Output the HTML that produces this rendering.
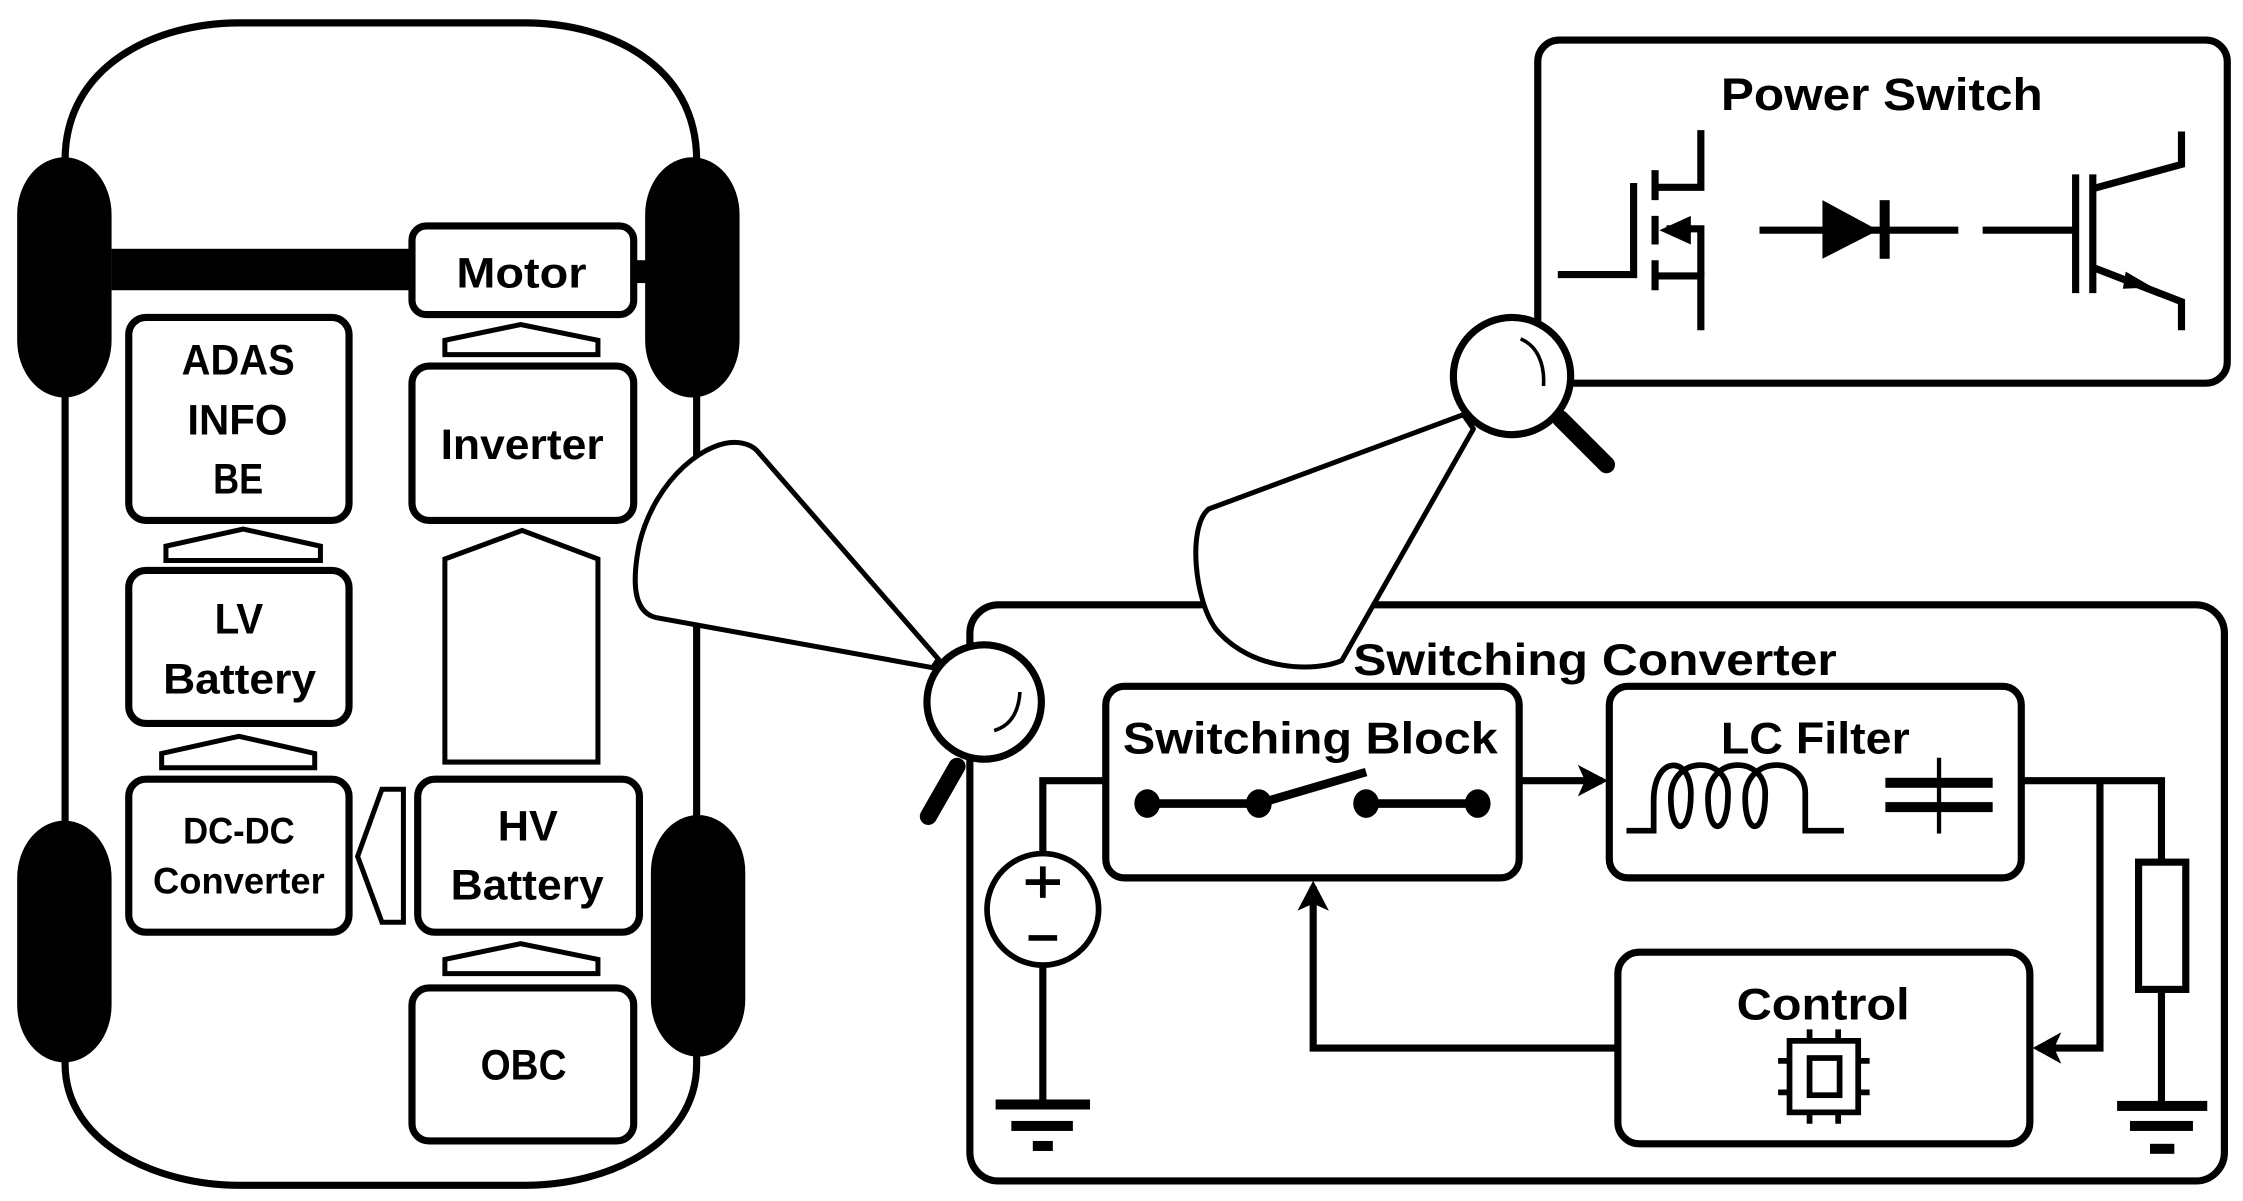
<!DOCTYPE html>
<html><head><meta charset="utf-8"><style>
html,body{margin:0;padding:0;background:#fff}
svg{display:block}
text{font-family:"Liberation Sans",sans-serif;font-weight:bold;fill:#000}
</style></head><body>
<svg width="2243" height="1201" viewBox="0 0 1568 840" preserveAspectRatio="none" xmlns="http://www.w3.org/2000/svg">
<g fill="none" stroke="#000" stroke-width="5" stroke-linejoin="round">
<path d="M45.5,112 C45.5,45 110,16 167,16 H367 C425,16 487,45 487,112 V744 C487,800 425,829 367,829 H167 C110,829 45.5,800 45.5,744 Z"/>
</g>
<g fill="#000">
<rect x="12" y="110" width="66" height="168" rx="33" ry="40"/>
<rect x="12" y="574" width="66" height="169" rx="33" ry="40"/>
<rect x="451" y="110" width="66" height="168" rx="33" ry="40"/>
<rect x="455" y="570" width="66" height="169" rx="33" ry="40"/>
<rect x="78" y="174" width="212" height="29"/>
<rect x="440" y="182" width="12" height="16"/>
</g>
<g fill="#fff" stroke="#000" stroke-width="5" stroke-linejoin="round">
<rect x="288" y="158" width="155" height="62" rx="10"/>
<rect x="288" y="256" width="155" height="108" rx="12"/>
<rect x="90" y="222" width="154" height="142" rx="12"/>
<rect x="90" y="399" width="154" height="107" rx="12"/>
<rect x="90" y="545" width="154" height="107" rx="12"/>
<rect x="292" y="545" width="155" height="107" rx="12"/>
<rect x="288" y="691" width="155" height="107" rx="12"/>
</g>
<g fill="#fff" stroke="#000" stroke-width="3.5" stroke-linejoin="miter">
<polygon points="311,248 311,238 364,227 418,238 418,248"/>
<polygon points="116,392 116,382 170,370 224,382 224,392"/>
<polygon points="113,537 113,527 167,515 220,527 220,537"/>
<polygon points="311,681 311,671 364,660 418,671 418,681"/>
<polygon points="311,533 311,391 365,371 418,391 418,533"/>
<polygon points="267,552 282,552 282,645 267,645 250,599"/>
</g>
<g font-size="30">
<text x="319" y="201" textLength="91" lengthAdjust="spacingAndGlyphs">Motor</text>
<text x="308" y="321" textLength="114" lengthAdjust="spacingAndGlyphs">Inverter</text>
<text x="127" y="262" textLength="79" lengthAdjust="spacingAndGlyphs">ADAS</text>
<text x="131" y="304" textLength="70" lengthAdjust="spacingAndGlyphs">INFO</text>
<text x="149" y="345" textLength="35" lengthAdjust="spacingAndGlyphs">BE</text>
<text x="150" y="443" textLength="34" lengthAdjust="spacingAndGlyphs">LV</text>
<text x="114" y="485" textLength="107" lengthAdjust="spacingAndGlyphs">Battery</text>
<text x="348" y="588" textLength="42" lengthAdjust="spacingAndGlyphs">HV</text>
<text x="315" y="629" textLength="107" lengthAdjust="spacingAndGlyphs">Battery</text>
<text x="336" y="755" textLength="60" lengthAdjust="spacingAndGlyphs">OBC</text>
</g>
<g font-size="26">
<text x="128" y="590" textLength="78" lengthAdjust="spacingAndGlyphs">DC-DC</text>
<text x="107" y="625" textLength="120" lengthAdjust="spacingAndGlyphs">Converter</text>
</g>

<rect x="1075" y="28" width="482" height="240" rx="15" fill="#fff" stroke="#000" stroke-width="5"/>
<text x="1203" y="77" font-size="32" textLength="225" lengthAdjust="spacingAndGlyphs">Power Switch</text>
<g fill="none" stroke="#000" stroke-width="5">
<path d="M1089,192 H1142 V128"/>
<path d="M1157,119 V140 M1157,151 V171 M1157,182 V203"/>
<path d="M1157,131 H1189 V91"/>
<path d="M1157,193 H1189 V231"/>
<path d="M1165,160 H1189 V193"/>
<path d="M1230,161 H1369"/>
<path d="M1386,161 H1451 M1451,122 V205 M1463,122 V205"/>
<path d="M1463,132 L1525,115 V92"/>
<path d="M1463,187 L1525,211 V231"/>
</g>
<polygon points="1160,161 1182,151 1182,171" fill="#000"/>
<polygon points="1274,140 1274,181 1313,161" fill="#000"/>
<rect x="1314" y="140" width="7" height="41" fill="#000"/>
<polygon points="1505,201 1486,190 1484,202" fill="#000"/>

<rect x="678" y="423" width="877" height="403" rx="20" fill="#fff" stroke="#000" stroke-width="5"/>

<path d="M529,315 L656,461 L652,467 L459,432 C440,428 443,400 447,380 C458,335 495,305 519,310 C524,311 527,313 529,315 Z" fill="#fff" stroke="#000" stroke-width="3.5" stroke-linejoin="round"/>
<line x1="669" y1="536" x2="649" y2="571" stroke="#000" stroke-width="12" stroke-linecap="round"/>
<circle cx="688" cy="491" r="40" fill="#fff" stroke="#000" stroke-width="5"/>
<path d="M713,484 C712,500 705,508 695,511" fill="none" stroke="#000" stroke-width="2.5"/>

<path d="M1023,290 L845,356 C830,368 835,420 850,440 C875,470 920,470 938,462 L1030,300 Z" fill="#fff" stroke="#000" stroke-width="3.5" stroke-linejoin="round"/>
<line x1="1091" y1="293" x2="1123" y2="325" stroke="#000" stroke-width="12" stroke-linecap="round"/>
<circle cx="1057" cy="263" r="41" fill="#fff" stroke="#000" stroke-width="5"/>
<path d="M1063,237 C1075,242 1080,255 1079,270" fill="none" stroke="#000" stroke-width="2.5"/>

<text x="946" y="472" font-size="31" textLength="338" lengthAdjust="spacingAndGlyphs">Switching Converter</text>

<g fill="none" stroke="#000" stroke-width="5">
<path d="M773,546 H729 V598"/>
<path d="M729,675 V772"/>
<path d="M1062,546 H1120"/>
<path d="M1413,546 H1511 V603"/>
<path d="M1511,693 V773"/>
<path d="M1468,546 V733 H1425"/>
<path d="M1131,733 H918 V620"/>
</g>
<g fill="#000">
<polygon points="1124,546 1103,535 1108,546 1103,557"/>
<polygon points="1421,733 1441,722 1436,733 1441,744"/>
<polygon points="918,616 907,637 918,632 929,637"/>
<rect x="696" y="769" width="66" height="7"/>
<rect x="707" y="784" width="43" height="7"/>
<rect x="722" y="798" width="14" height="7"/>
<rect x="1480" y="770" width="63" height="7"/>
<rect x="1489" y="784" width="44" height="7"/>
<rect x="1503" y="800" width="17" height="7"/>
</g>
<circle cx="729" cy="636" r="39" fill="#fff" stroke="#000" stroke-width="4"/>
<path d="M717,617 H741 M729,606 V628 M719,656 H739" stroke="#000" stroke-width="4"/>
<rect x="1495" y="603" width="33" height="89" fill="#fff" stroke="#000" stroke-width="5"/>

<g fill="#fff" stroke="#000" stroke-width="5">
<rect x="773" y="480" width="289" height="134" rx="13"/>
<rect x="1125" y="480" width="288" height="134" rx="13"/>
<rect x="1131" y="666" width="288" height="134" rx="15"/>
</g>
<g font-size="31">
<text x="785" y="527" textLength="262" lengthAdjust="spacingAndGlyphs">Switching Block</text>
<text x="1203" y="527" textLength="132" lengthAdjust="spacingAndGlyphs">LC Filter</text>
<text x="1214" y="713" textLength="121" lengthAdjust="spacingAndGlyphs">Control</text>
</g>
<g stroke="#000" stroke-width="6" fill="none">
<path d="M802,562 H880 M955,562 H1033 M880,562 L955,540"/>
</g>
<g fill="#000">
<ellipse cx="802" cy="562" rx="9" ry="10"/>
<ellipse cx="880" cy="562" rx="9" ry="10"/>
<ellipse cx="955" cy="562" rx="9" ry="10"/>
<ellipse cx="1033" cy="562" rx="9" ry="10"/>
</g>
<path d="M1137,581 H1156 V560 C1156,528 1182,528 1182,555 C1182,585 1168,585 1168,558 C1168,528 1208,528 1208,555 C1208,585 1194,585 1194,558 C1194,528 1234,528 1234,555 C1234,585 1220,585 1220,558 C1220,528 1262,528 1262,555 V581 H1289" fill="none" stroke="#000" stroke-width="4"/>
<g fill="#000">
<rect x="1318" y="544" width="75" height="7"/>
<rect x="1318" y="561" width="75" height="7"/>
<rect x="1354" y="530" width="3" height="53"/>
</g>
<g fill="none" stroke="#000" stroke-width="4">
<rect x="1251" y="728" width="48" height="50"/>
<rect x="1265" y="740" width="21" height="26"/>
<path d="M1265,720 V728 M1285,720 V728 M1265,778 V786 M1285,778 V786 M1243,742 H1251 M1243,764 H1251 M1299,742 H1307 M1299,764 H1307"/>
</g>
</svg>
</body></html>
